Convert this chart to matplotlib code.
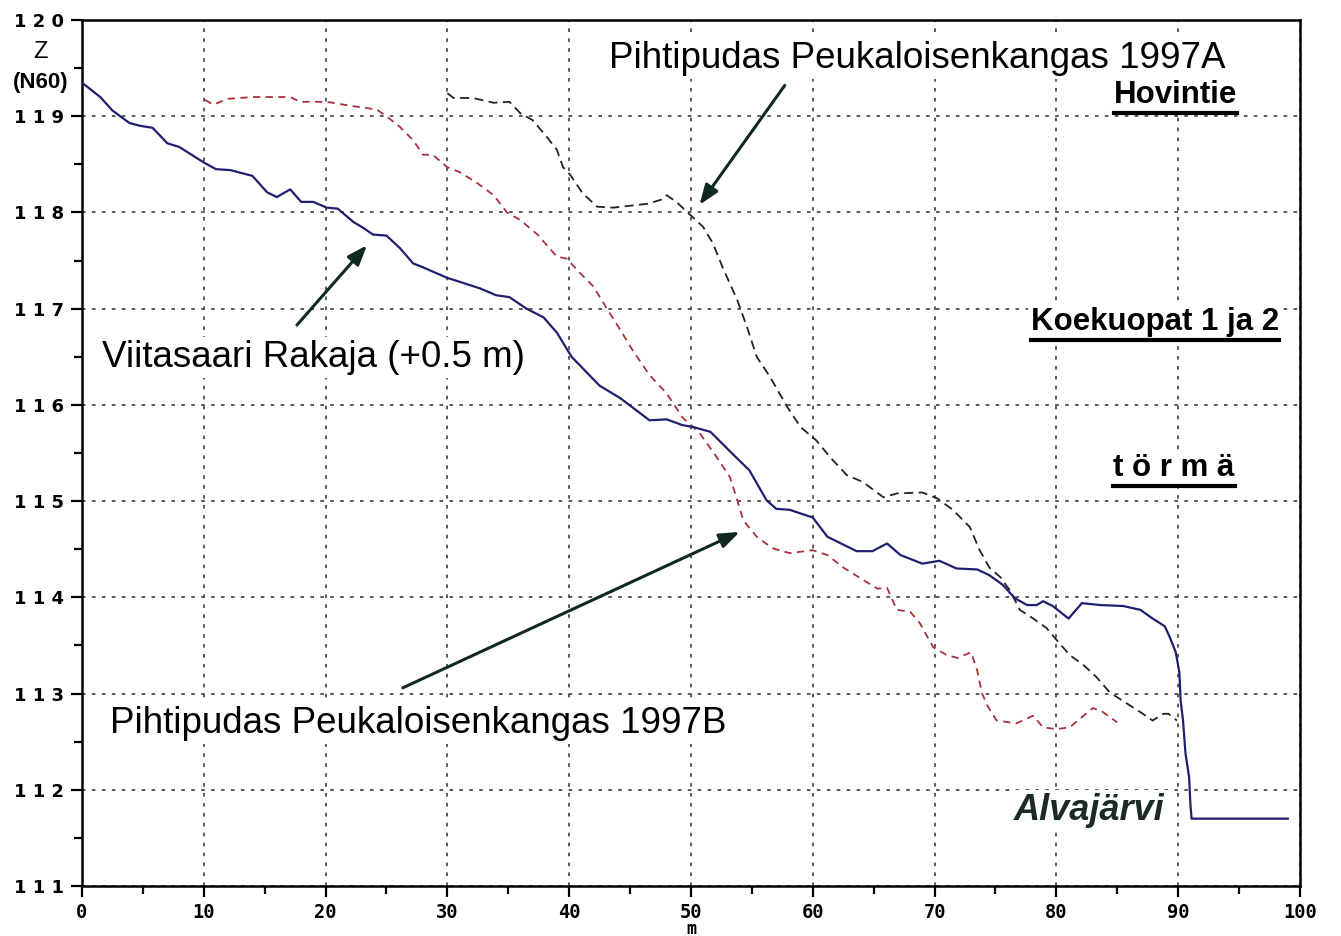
import matplotlib
matplotlib.use("Agg")
import matplotlib.pyplot as plt
from matplotlib.lines import Line2D
import numpy as np

# Viitasaari Rakaja (+0.5 m), solid blue
rak_x = [0, 1.5, 2.5, 3.9, 4.8, 5.8, 7, 8, 10, 11, 12.2, 14, 15.2, 16, 17.1, 18, 19, 20.1,
         21, 22.3, 23.1, 23.9, 25, 26.1, 27.2, 28, 30, 31, 32.7, 34, 35.1, 36.5, 37.9, 39,
         40.2, 42.5, 44.2, 46.6, 48, 49.3, 50.2, 51.6, 53.5, 54.8, 56.2, 57, 58.1, 60, 61.2,
         63.6, 64.9, 66.1, 67.2, 69, 70.4, 71.8, 73.5, 74.5, 75.6, 76.6, 77.6, 78.4, 78.9,
         79.7, 81, 82.1, 83.6, 85.5, 86.9, 87.9, 88.9, 89.3, 89.8, 90.1, 90.2, 90.4, 90.6,
         90.9, 91.0, 91.1, 99]
rak_z = [119.35, 119.2, 119.06, 118.93, 118.9, 118.88, 118.72, 118.68, 118.52, 118.45,
         118.44, 118.38, 118.21, 118.16, 118.24, 118.11, 118.11, 118.05, 118.04, 117.9,
         117.84, 117.77, 117.76, 117.63, 117.47, 117.43, 117.32, 117.28, 117.21, 117.14,
         117.12, 117.0, 116.91, 116.75, 116.5, 116.2, 116.07, 115.84, 115.85, 115.79, 115.77,
         115.72, 115.48, 115.32, 115.01, 114.92, 114.91, 114.83, 114.63, 114.48, 114.48,
         114.56, 114.44, 114.35, 114.38, 114.3, 114.29, 114.23, 114.13, 113.99, 113.92,
         113.92, 113.96, 113.91, 113.78, 113.94, 113.92, 113.91, 113.87, 113.78, 113.7,
         113.59, 113.43, 113.22, 112.93, 112.72, 112.38, 112.13, 111.86, 111.7, 111.7]

# Pihtipudas Peukaloisenkangas 1997B, red dashed
pb_x = [10.1, 10.8, 11.9, 14, 17.1, 17.9, 20.1, 22, 24.2, 25, 26.1, 27.2, 28, 28.8, 30, 31,
        32.4, 33.8, 34.9, 36, 37.4, 39, 39.8, 40.9, 42, 43.1, 44.2, 45.2, 46.6, 48, 49.3,
        50.7, 52.1, 53.2, 53.8, 54.3, 55.4, 56.7, 58.1, 60, 61.2, 62.5, 63.9, 65.3, 66.1,
        66.9, 68, 68.8, 69.9, 71, 71.9, 73, 73.5, 73.9, 74.4, 75.1, 76.7, 78.1, 78.9, 80,
        81.1, 83, 83.8, 85]
pb_z = [119.17, 119.12, 119.18, 119.2, 119.2, 119.15, 119.15, 119.11, 119.07, 119.0, 118.89,
        118.75, 118.6, 118.6, 118.47, 118.42, 118.31, 118.18, 118.0, 117.92, 117.77, 117.54,
        117.52, 117.37, 117.23, 117.0, 116.78, 116.57, 116.31, 116.12, 115.87, 115.71,
        115.46, 115.25, 115.01, 114.8, 114.63, 114.51, 114.46, 114.49, 114.44, 114.31, 114.2,
        114.09, 114.1, 113.87, 113.85, 113.73, 113.48, 113.4, 113.37, 113.43, 113.24, 113.0,
        112.86, 112.72, 112.69, 112.77, 112.65, 112.63, 112.65, 112.85, 112.81, 112.7]

# Pihtipudas Peukaloisenkangas 1997A, black dashed
pa_x = [30, 30.5, 32.1, 33.8, 35.1, 36, 37, 38.2, 39, 39.5, 40.1, 41.1, 42.3, 43.6, 46.4,
        47.5, 48, 48.8, 49.9, 51, 51.8, 52.6, 53.8, 54.6, 55.4, 56.5, 57.9, 59, 60.3, 61.4,
        62.8, 64.1, 65.8, 66.9, 69, 70.2, 71.5, 72.9, 73.7, 74.5, 75.4, 76.2, 77, 78.1,
        79.2, 80, 81.1, 82.2, 83.3, 84.4, 86, 87.1, 87.9, 88.8, 89.2, 89.9]
pa_z = [119.24, 119.19, 119.19, 119.14, 119.15, 119.03, 118.96, 118.78, 118.65, 118.47,
        118.39, 118.2, 118.06, 118.05, 118.09, 118.13, 118.18, 118.11, 117.98, 117.85,
        117.68, 117.43, 117.09, 116.81, 116.5, 116.29, 115.98, 115.77, 115.63, 115.46,
        115.27, 115.2, 115.04, 115.08, 115.09, 115.03, 114.91, 114.73, 114.49, 114.31,
        114.21, 114.07, 113.87, 113.78, 113.68, 113.56, 113.4, 113.3, 113.17, 113.01,
        112.88, 112.79, 112.72, 112.79, 112.79, 112.72]

x_ticks = list(range(0, 101, 10))
y_ticks = list(range(111, 121))

fig = plt.figure(figsize=(13.41, 9.36), dpi=100)
ax = fig.add_axes([0.0611, 0.0534, 0.9083, 0.9252])

ax.plot(rak_x, rak_z, color="#1f1f6e", lw=1.6, zorder=4)
ax.plot(pb_x, pb_z, color="#a8323c", lw=1.3, ls=(0, (4, 3)), zorder=3)
ax.plot(pa_x, pa_z, color="#222222", lw=1.3, ls=(0, (5, 3)), zorder=3)

ax.set_xlim(0, 100)
ax.set_ylim(111, 120)
ax.set_xticks(x_ticks)
ax.set_yticks(y_ticks)
ax.set_xticks(np.arange(5, 100, 10), minor=True)
ax.set_yticks(np.arange(111.5, 120, 1), minor=True)
ax.set_yticklabels([" ".join(str(v)) for v in y_ticks])

for lab in ax.get_xticklabels():
    lab.set_fontproperties(dict(family="DejaVu Sans Mono", weight="bold", size=13.5))
for lab in ax.get_yticklabels():
    lab.set_fontproperties(dict(family="DejaVu Sans", weight="bold", size=13))
ax.tick_params(which="major", direction="out", length=8, width=1.6)
ax.tick_params(axis="x", pad=4)
ax.tick_params(axis="y", pad=5)
ax.tick_params(which="minor", direction="out", length=6, width=1.6)
for sp in ax.spines.values():
    sp.set_linewidth(1.8)

ax.grid(True, which="major", color="#4d4d4d", lw=1.3, ls=(0, (2, 3.5)))
ax.set_axisbelow(True)

ax.set_xlabel("m", family="DejaVu Sans Mono", weight="bold", size=12, va="top")
ax.xaxis.set_label_coords(0.5, -0.0395)
fig.text(0.030, 0.944, "Z", ha="center", va="center", fontsize=17, family="Liberation Sans")
fig.text(0.030, 0.912, "(N60)", ha="center", va="center", fontsize=16, weight="bold",
         family="Liberation Sans")

box = dict(facecolor="white", edgecolor="none", pad=2)
afont = dict(family="Liberation Sans", size=26.5)
arrow = dict(arrowstyle="-|>,head_length=1.2,head_width=0.45", color="#10291f", lw=2.2,
             shrinkA=0, shrinkB=0)

ax.text(68.55, 119.6, "Pihtipudas Peukaloisenkangas 1997A", ha="center", va="center",
        bbox=box, **afont)
ax.annotate("", xy=(50.7, 118.08), xytext=(57.7, 119.32), arrowprops=arrow)
ax.text(18.97, 116.49, "Viitasaari Rakaja (+0.5 m)", ha="center", va="center",
        bbox=box, **afont)
ax.annotate("", xy=(23.4, 117.66), xytext=(17.65, 116.83), arrowprops=arrow)
ax.text(27.6, 112.69, "Pihtipudas Peukaloisenkangas 1997B", ha="center", va="center",
        bbox=box, **afont)
ax.annotate("", xy=(54.0, 114.68), xytext=(26.35, 113.06), arrowprops=arrow)

# the placed labels with underline
uf = dict(family="Liberation Sans", size=22.5, weight="bold")
t1 = ax.text(89.8, 119.22, "Hovintie", ha="center", va="center", bbox=box, **uf)
t2 = ax.text(88.1, 116.86, "Koekuopat 1 ja 2", ha="center", va="center", bbox=box, **uf)
t3 = ax.text(89.65, 115.34, "t ö r m ä", ha="center", va="center", bbox=box, **uf)
ax.text(88.9, 111.79, "Alvajärvi", ha="right", va="center", family="Liberation Sans",
        size=26, style="italic", weight="bold", color="#1a2a24", bbox=box)

fig.canvas.draw()
r = fig.canvas.get_renderer()
for t in (t1, t2, t3):
    bb = t.get_window_extent(r)
    y = bb.y0 - 3
    fig.add_artist(Line2D([bb.x0, bb.x1], [y, y], transform=None, color="black", lw=3))

fig.savefig("out.png", dpi=100)
